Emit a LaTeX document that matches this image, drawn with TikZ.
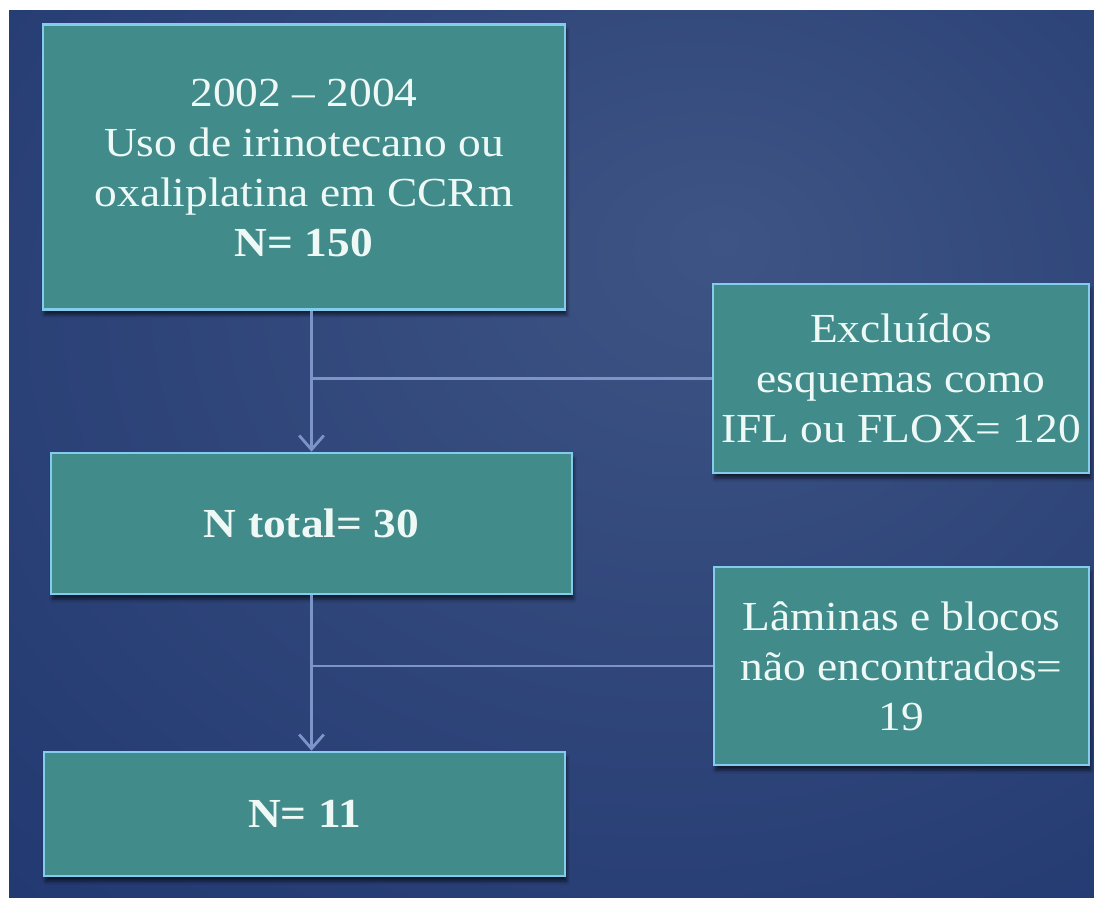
\documentclass[tikz,border=0pt]{standalone}
\usepackage{fontspec}
\setmainfont[FakeStretch=1.1]{Liberation Serif}
\usepackage{tikz}
\usetikzlibrary{arrows.meta,shadows.blur,calc}
\definecolor{bgcenter}{RGB}{62,84,132}
\definecolor{bgouter}{RGB}{32,55,112}
\definecolor{boxfill}{RGB}{66,139,139}
\definecolor{boxedge}{RGB}{132,204,238}
\definecolor{linkcolor}{RGB}{125,148,200}
\definecolor{boxtext}{RGB}{238,249,246}
\pgfdeclareradialshading{slideglow}{\pgfpoint{8bp}{12bp}}{color(0bp)=(bgcenter); color(45bp)=(bgouter); color(80bp)=(bgouter)}

\begin{document}
\begin{tikzpicture}[x=0.02cm, y=-0.02cm,
    flowbox/.style={draw=boxedge, line width=1.5pt, fill=boxfill, text=boxtext,
        align=center, inner sep=2pt, font=\fontsize{23.5}{28.5}\selectfont,
        blur shadow={shadow xshift=1pt, shadow yshift=-3pt, shadow opacity=60, shadow blur steps=6}},
    link/.style={draw=linkcolor, line width=1.6pt}]
    % Background
    \useasboundingbox (0,0) rectangle (1094,897);
    \fill[white] (0,0) rectangle (1094,897);
    \shade[shading=slideglow] (9,10) rectangle (1094,897);

    % Main column
    \node[flowbox, minimum width=10.44cm, minimum height=5.70cm] (start) at (304,167)
        {\\[-12pt]2002 -- 2004\\Uso de irinotecano ou\\oxaliplatina em CCRm\\\textbf{N= 150}};
    \node[flowbox, minimum width=10.42cm, minimum height=2.82cm] (total) at (311.5,523.5)
        {\textbf{N total= 30}};
    \node[flowbox, minimum width=10.42cm, minimum height=2.48cm] (final) at (304.5,814)
        {\textbf{N= 11}};

    % Exclusions
    \node[flowbox, minimum width=7.52cm, minimum height=3.78cm] (excl) at (901,378.5)
        {Excluídos\\esquemas como\\IFL ou FLOX= 120};
    \node[flowbox, minimum width=7.50cm, minimum height=3.96cm] (lost) at (901.5,666)
        {Lâminas e blocos\\não encontrados=\\19};

    % Connectors
    \draw[link, -{Straight Barb[length=8pt,width=14pt]}] (total.north |- start.south) -- (total.north);
    \draw[link] (excl.west) -- (excl.west -| total.north);
    \draw[link, -{Straight Barb[length=8pt,width=14pt]}] (total.south) -- (total.south |- final.north);
    \draw[link] (lost.west) -- (lost.west -| total.south);
\end{tikzpicture}
\end{document}
